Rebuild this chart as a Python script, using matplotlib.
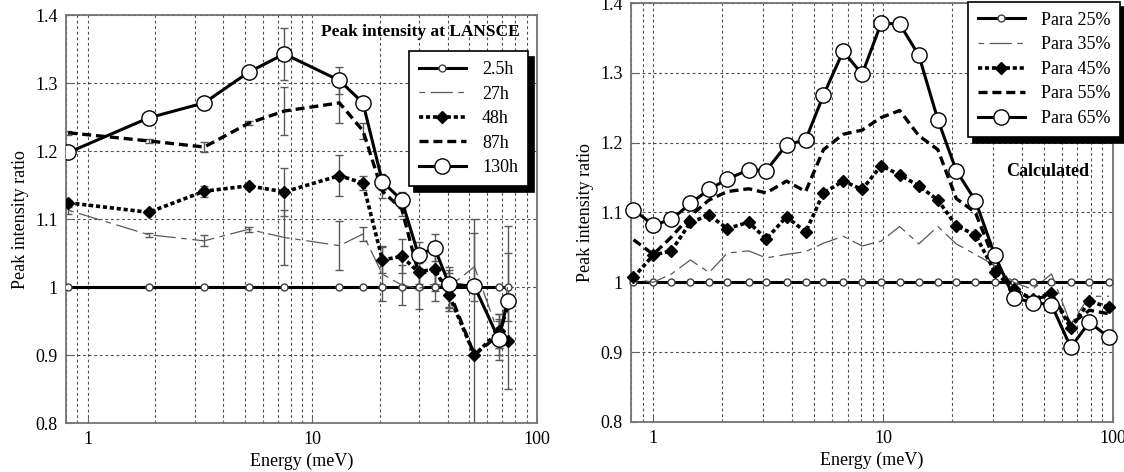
import numpy as np
import matplotlib.pyplot as plt
from matplotlib.ticker import NullFormatter

plt.rcParams['font.family'] = ['Liberation Serif', 'DejaVu Serif']
plt.rcParams['lines.scale_dashes'] = False

# ---- measured data (LANSCE) ----
e_meas = [0.82, 1.87, 3.3, 5.2, 7.5, 13.2, 16.8, 20.5, 25.0, 29.7, 35.0, 40.5, 52.7, 67.7, 74.0]
r_2_5h = [1.0] * 15
r_27h = [1.113, 1.077, 1.068, 1.085, 1.073, 1.061, 1.078, 1.019, 1.003, 0.998, 1.005, 1.0, 1.03, 0.93, 1.0]
r_48h = [1.124, 1.110, 1.141, 1.149, 1.140, 1.164, 1.153, 1.040, 1.045, 1.022, 1.027, 0.989, 0.900, 0.935, 0.921]
r_87h = [1.227, 1.215, 1.206, 1.241, 1.259, 1.271, 1.230, 1.141, 1.115, 1.020, 1.024, 0.995, 0.900, 0.930, 0.970]
r_130h = [1.198, 1.249, 1.271, 1.316, 1.343, 1.304, 1.271, 1.155, 1.128, 1.047, 1.058, 1.005, 1.001, 0.923, 0.980]

err_27h = [0.005, 0.003, 0.008, 0.004, 0.04, 0.036, 0.01, 0.04, 0.03, 0.03, 0.025, 0.03, 0.05, 0.03, 0.05]
err_48h = [0.004, 0.003, 0.008, 0.004, 0.035, 0.03, 0.01, 0.02, 0.025, 0.025, 0.025, 0.02, 0.0, 0.025, 0.0]
err_87h = [0.003, 0.003, 0.008, 0.003, 0.035, 0.03, 0.012, 0.01, 0.01, 0.015, 0.03, 0.03, 0.2, 0.02, 0.12]
err_130h = [0.0, 0.0, 0.0, 0.0, 0.038, 0.02, 0.0, 0.012, 0.012, 0.02, 0.02, 0.015, 0.0, 0.03, 0.0]

# ---- calculated data ----
e_calc = [0.82, 1.0, 1.2, 1.45, 1.75, 2.1, 2.6, 3.1, 3.8, 4.6, 5.5, 6.7, 8.1, 9.8, 11.8,
          14.3, 17.3, 20.8, 25.2, 30.6, 37.0, 44.7, 54.0, 65.5, 79.0, 96.0]
p25 = [1.0] * 26
p35 = [1.005, 1.0, 1.012, 1.032, 1.014, 1.042, 1.045, 1.035, 1.040, 1.044, 1.056, 1.066, 1.052,
       1.059, 1.080, 1.055, 1.080, 1.055, 1.040, 1.024, 1.0, 0.99, 1.012, 0.94, 0.98, 0.98]
p45 = [1.007, 1.039, 1.045, 1.086, 1.096, 1.077, 1.086, 1.062, 1.094, 1.072, 1.128, 1.145, 1.133,
       1.167, 1.154, 1.138, 1.118, 1.081, 1.068, 1.015, 0.99, 0.976, 0.984, 0.934, 0.973, 0.964]
p55 = [1.061, 1.040, 1.065, 1.095, 1.118, 1.130, 1.134, 1.128, 1.145, 1.130, 1.190, 1.212, 1.218,
       1.236, 1.246, 1.210, 1.190, 1.120, 1.100, 1.030, 0.990, 0.975, 0.982, 0.940, 0.960, 0.955]
p65 = [1.104, 1.082, 1.090, 1.113, 1.133, 1.148, 1.161, 1.160, 1.197, 1.204, 1.268, 1.331, 1.298,
       1.371, 1.370, 1.325, 1.233, 1.160, 1.117, 1.039, 0.978, 0.971, 0.968, 0.907, 0.943, 0.921]

legend_meas = ['2.5h', '27h', '48h', '87h', '130h']
legend_calc = ['Para 25%', 'Para 35%', 'Para 45%', 'Para 55%', 'Para 65%']

fig = plt.figure(figsize=(11.24, 4.72), dpi=100)
ax1 = fig.add_axes([0.0587, 0.1038, 0.419, 0.864])
ax2 = fig.add_axes([0.5614, 0.1060, 0.4288, 0.8876])

styles = [
    dict(color='black', lw=2.2, ls='-', marker='o', ms=5, mfc='white', mec='0.25', mew=1.0),
    dict(color='0.35', lw=0.9, ls=(0, (4, 4, 16, 4)), marker=None),
    dict(color='black', lw=2.6, ls=(0, (3, 2)), marker='D', ms=6.5, mfc='black', mec='black'),
    dict(color='black', lw=2.4, ls=(0, (6.5, 3.5)), marker=None),
    dict(color='black', lw=2.2, ls='-', marker='o', ms=11, mfc='white', mec='black', mew=1.0),
]


def setup(ax):
    ax.set_xscale('log')
    ax.set_xlim(0.8, 100)
    ax.set_ylim(0.8, 1.4)
    ax.set_xticks([1, 10, 100])
    ax.set_xticklabels(['1', '10', '100'])
    ax.xaxis.set_minor_formatter(NullFormatter())
    ax.set_yticks([0.8, 0.9, 1.0, 1.1, 1.2, 1.3, 1.4])
    ax.set_yticklabels(['0.8', '0.9', '1', '1.1', '1.2', '1.3', '1.4'])
    ax.tick_params(which='both', direction='in', labelsize=13, color='0.4')
    ax.tick_params(which='major', length=4, pad=6)
    ax.tick_params(which='minor', length=2)
    ax.grid(True, which='both', axis='x', color='0.3', lw=0.8, ls=(0, (2, 2)))
    ax.grid(True, which='major', axis='y', color='0.3', lw=0.8, ls=(0, (2, 2)))
    for s in ax.spines.values():
        s.set_color('0.45')
        s.set_linewidth(1.3)
    ax.set_xlabel('Energy (meV)', fontsize=13, labelpad=3)
    ax.set_ylabel('Peak intensity ratio', fontsize=13)
    ax.set_axisbelow(True)


setup(ax1)
setup(ax2)

leg_kw = dict(fontsize=13, frameon=True, fancybox=False, edgecolor='black', framealpha=1,
              shadow={'color': 'black', 'alpha': 1, 'ox': 4, 'oy': -4},
              handlelength=2.6, handletextpad=0.9, borderpad=0.55, labelspacing=0.42,
              borderaxespad=0)

# left: measured
meas = [r_2_5h, r_27h, r_48h, r_87h, r_130h]
errs = [None, err_27h, err_48h, err_87h, err_130h]
for y, e in zip(meas, errs):
    if e is not None:
        ax1.errorbar(e_meas, y, yerr=e, fmt='none', ecolor='0.35', elinewidth=1.0, capsize=3, zorder=2)
h1 = []
for y, st, lab in zip(meas, styles, legend_meas):
    line, = ax1.plot(e_meas, y, label=lab, zorder=3, **st)
    h1.append(line)

leg1 = ax1.legend(handles=h1, loc='upper right', bbox_to_anchor=(0.981, 0.912), **leg_kw)
leg1.get_frame().set_linewidth(1.2)
ax1.text(0.964, 0.958, 'Peak intensity at LANSCE', transform=ax1.transAxes, ha='right', va='center',
         fontsize=12.5, fontweight='bold')

# right: calculated
calc = [p25, p35, p45, p55, p65]
h2 = []
for y, st, lab in zip(calc, styles, legend_calc):
    line, = ax2.plot(e_calc, y, label=lab, zorder=3, clip_on=False, **st)
    h2.append(line)

leg2 = ax2.legend(handles=h2, loc='upper left', bbox_to_anchor=(0.699, 1.003), **leg_kw)
leg2.get_frame().set_linewidth(1.2)
ax2.text(0.865, 0.597, 'Calculated', transform=ax2.transAxes, ha='center', va='center',
         fontsize=13, fontweight='bold')

fig.savefig('out.png', dpi=100)
